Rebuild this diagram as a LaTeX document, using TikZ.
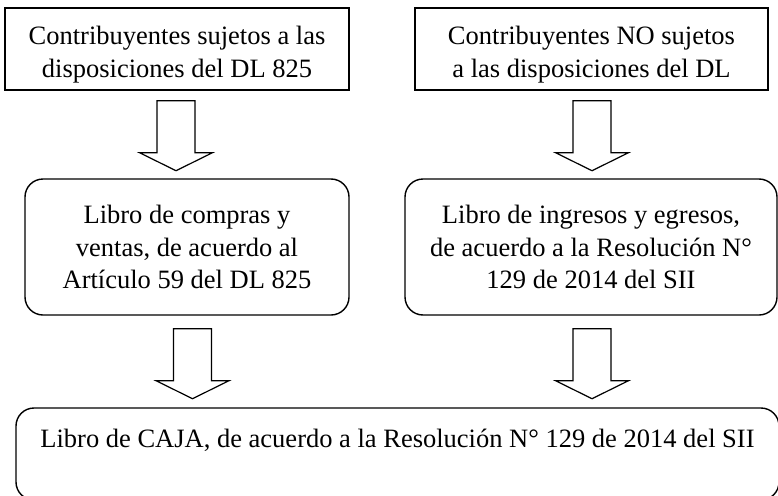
\documentclass[tikz,border=0pt]{standalone}
\usepackage{fontspec}
\setmainfont{Liberation Serif}
\usetikzlibrary{calc}

\begin{document}
\begin{tikzpicture}%
        [x=1pt, y=-1pt,
        caja/.style={draw, line width=1.4pt, inner sep=0pt, align=center, font=\fontsize{26.5}{32.5}\selectfont},
        cajaredonda/.style={caja, rounded corners=18pt},
        flecha/.style={draw, line width=1.2pt, line join=miter, fill=white}]
    %
    %% Marco de la figura
    \useasboundingbox (0,0) rectangle (778,495);
    \clip (0,0) rectangle (778,495);
    %
    %% Cajas superiores
    \node[caja, minimum width=344pt, minimum height=82pt] (sujetos) at (177,49)
        {\rule{0pt}{30pt}Contribuyentes sujetos a las\\disposiciones del DL 825};
    \node[caja, minimum width=353pt, minimum height=82pt] (nosujetos) at (591.5,49)
        {\rule{0pt}{30pt}Contribuyentes NO sujetos\\a las disposiciones del DL};
    %
    %% Libros intermedios
    \node[cajaredonda, minimum width=324pt, minimum height=136pt] (compras) at (187,247)
        {Libro de compras y\\ventas, de acuerdo al\\Artículo 59 del DL 825};
    \node[cajaredonda, minimum width=372pt, minimum height=136pt] (ingresos) at (591,247)
        {Libro de ingresos y egresos,\\de acuerdo a la Resolución N°\\129 de 2014 del SII};
    %
    %% Libro de caja
    \node[cajaredonda, minimum width=763pt, text height=39pt, text depth=53pt] (cajalibro) at (397.5,454)
        {Libro de CAJA, de acuerdo a la Resolución N° 129 de 2014 del SII};
    %
    %% Puntos de partida de las flechas
    \coordinate (f1) at ($(sujetos.south)+(-1,10)$);
    \coordinate (f2) at ($(nosujetos.south)+(0.5,10)$);
    \coordinate (f3) at ($(compras.south)+(5.5,13)$);
    \coordinate (f4) at ($(ingresos.south)+(1,13)$);
    %
    %% Flechas de bloque
    \draw[flecha] (f1) ++(-19,0) -- ++(38,0) -- ++(0,52) -- ++(17.5,0) -- ++(-36.5,18) -- ++(-36.5,-18) -- ++(17.5,0) -- cycle;
    \draw[flecha] (f2) ++(-19,0) -- ++(38,0) -- ++(0,52) -- ++(17.5,0) -- ++(-36.5,18) -- ++(-36.5,-18) -- ++(17.5,0) -- cycle;
    \draw[flecha] (f3) ++(-19,0) -- ++(38,0) -- ++(0,52) -- ++(17.5,0) -- ++(-36.5,18) -- ++(-36.5,-18) -- ++(17.5,0) -- cycle;
    \draw[flecha] (f4) ++(-19,0) -- ++(38,0) -- ++(0,52) -- ++(17.5,0) -- ++(-36.5,18) -- ++(-36.5,-18) -- ++(17.5,0) -- cycle;
    %%
\end{tikzpicture}
\end{document}
